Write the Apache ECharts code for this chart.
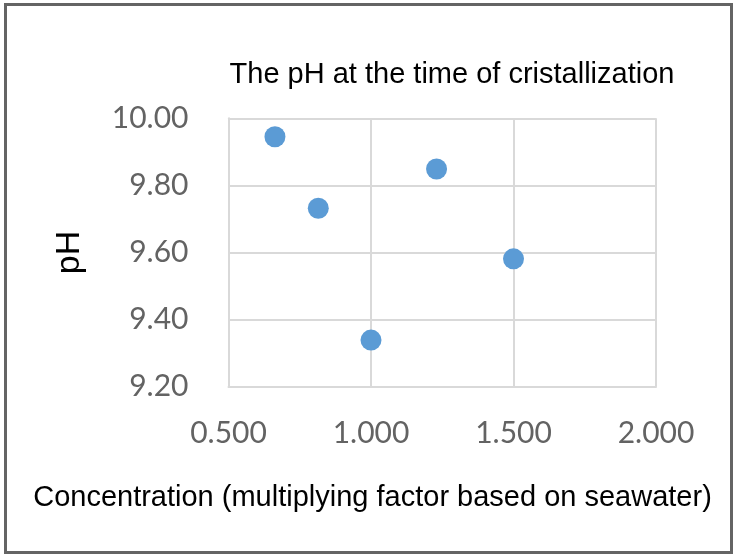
<!DOCTYPE html>
<html>
<head>
<meta charset="utf-8">
<style>
  html, body { margin: 0; padding: 0; background: #fff; }
  #chart { width: 733px; height: 554px; }
</style>
<script src="https://cdn.jsdelivr.net/npm/echarts@6/dist/echarts.min.js"></script>
</head>
<body>
<div id="chart"></div>
<script>
// Concentration factor (relative to seawater) and measured pH at crystallization
const concentration = [0.663, 0.815, 1.0, 1.23, 1.5];
const phValues = [9.945, 9.732, 9.339, 9.849, 9.581];

const chartTitle = 'The pH at the time of cristallization';
const xCaption = 'Concentration (multiplying factor based on seawater)';
const yCaption = 'pH';

const points = concentration.map((c, i) => [c, phValues[i]]);

const tickFont = { fontFamily: 'Lato', fontSize: 30, color: '#636363' };
const gridLine = { lineStyle: { color: '#d9d9d9', width: 2 } };

const chart = echarts.init(document.getElementById('chart'), null, { renderer: 'canvas' });
chart.setOption({
  animation: false,
  backgroundColor: '#fff',
  title: {
    text: chartTitle,
    left: 452,
    textAlign: 'center',
    top: 60,
    padding: 0,
    textStyle: { fontFamily: 'Liberation Sans', fontSize: 29, fontWeight: 'normal', color: '#000' }
  },
  grid: { left: 228.5, top: 118.3, width: 427.5, height: 268.4 },
  xAxis: {
    type: 'value',
    min: 0.5, max: 2.0, interval: 0.5,
    axisLine: { show: true, lineStyle: { color: '#d9d9d9', width: 2 } },
    axisTick: { show: false },
    splitLine: { show: true, ...gridLine },
    axisLabel: { ...tickFont, margin: 32, formatter: v => v.toFixed(3) }
  },
  yAxis: {
    type: 'value',
    min: 9.2, max: 10.0, interval: 0.2,
    name: yCaption,
    nameLocation: 'middle',
    nameRotate: 90,
    nameGap: 142,
    nameTextStyle: { fontFamily: 'Liberation Sans', fontSize: 34, color: '#000' },
    axisLine: { show: true, lineStyle: { color: '#d9d9d9', width: 2 } },
    axisTick: { show: false },
    splitLine: { show: true, ...gridLine },
    axisLabel: { ...tickFont, margin: 40, formatter: v => v.toFixed(2) }
  },
  series: [{
    type: 'scatter',
    data: points,
    symbol: 'circle',
    symbolSize: 21,
    itemStyle: { color: '#5b9bd5', opacity: 1 }
  }],
  graphic: [
    {
      type: 'rect',
      shape: { x: 5.5, y: 4.5, width: 726, height: 548 },
      style: { fill: null, stroke: '#646464', lineWidth: 3 },
      silent: true
    },
    {
      type: 'text',
      x: 372.5,
      y: 497.5,
      style: {
        text: xCaption,
        font: '29px "Liberation Sans"',
        fill: '#000',
        align: 'center',
        verticalAlign: 'middle'
      }
    }
  ]
});
</script>
</body>
</html>
